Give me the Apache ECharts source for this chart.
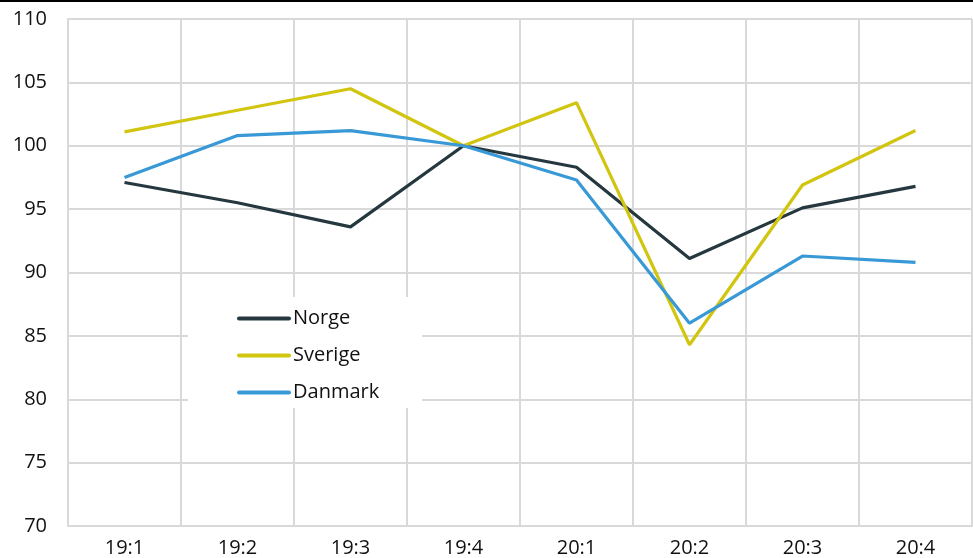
<!DOCTYPE html>
<html><head><meta charset="utf-8">
<script src="https://cdn.jsdelivr.net/npm/echarts@6/dist/echarts.min.js"></script>
<style>html,body{margin:0;padding:0;background:#fff}#c{width:973px;height:558px}</style>
</head><body><div id="c"></div>
<script>
const categories = ['19:1','19:2','19:3','19:4','20:1','20:2','20:3','20:4'];
const norge   = [97.1, 95.5, 93.6, 100.0, 98.3, 91.1, 95.1, 96.8];
const sverige = [101.1, 102.8, 104.5, 100.0, 103.4, 84.3, 96.9, 101.2];
const danmark = [97.5, 100.8, 101.2, 100.0, 97.3, 86.0, 91.3, 90.8];
const yTicks = {min: 70, max: 110, interval: 5};

const font = '"Open Sans", "Noto Sans", sans-serif';
const chart = echarts.init(document.getElementById('c'));
const icon = 'path://M2,0 L52,0 A2,2 0 0 1 52,4 L2,4 A2,2 0 0 1 2,0 Z';
chart.setOption({
  animation: false,
  backgroundColor: '#fff',
  textStyle: {fontFamily: font},
  graphic: [{type: 'rect', shape: {x: 0, y: 0, width: 973, height: 2}, style: {fill: '#000'}}],
  grid: {left: 68, right: 1, top: 19, bottom: 32},
  legend: {
    orient: 'vertical', left: 188, top: 297,
    backgroundColor: '#fff',
    padding: [8, 43, 2, 49],
    itemWidth: 54, itemHeight: 4, itemGap: 10,
    icon: icon,
    textStyle: {fontSize: 20, color: '#111', fontFamily: font, padding: [0, 0, 0, -3], lineHeight: 27},
    data: ['Norge', 'Sverige', 'Danmark']
  },
  xAxis: {
    type: 'category', data: categories, boundaryGap: true,
    axisLine: {show: true, lineStyle: {color: '#d9d9d9', width: 2}},
    axisTick: {show: false},
    splitLine: {show: true, lineStyle: {color: '#d9d9d9', width: 2}},
    axisLabel: {fontSize: 20, color: '#111', margin: 12, fontFamily: font}
  },
  yAxis: {
    type: 'value', min: yTicks.min, max: yTicks.max, interval: yTicks.interval,
    axisLine: {show: true, lineStyle: {color: '#d9d9d9', width: 2}},
    axisTick: {show: false},
    splitLine: {show: true, lineStyle: {color: '#d9d9d9', width: 2}},
    axisLabel: {fontSize: 20, color: '#111', margin: 21, fontFamily: font}
  },
  series: [
    {name: 'Norge', type: 'line', data: norge, symbol: 'none', lineStyle: {color: '#25383f', width: 3.2}, itemStyle: {color: '#25383f'}},
    {name: 'Sverige', type: 'line', data: sverige, symbol: 'none', lineStyle: {color: '#d2c50f', width: 3.2}, itemStyle: {color: '#d2c50f'}},
    {name: 'Danmark', type: 'line', data: danmark, symbol: 'none', lineStyle: {color: '#3899d6', width: 3.2}, itemStyle: {color: '#3899d6'}}
  ]
});
</script></body></html>
